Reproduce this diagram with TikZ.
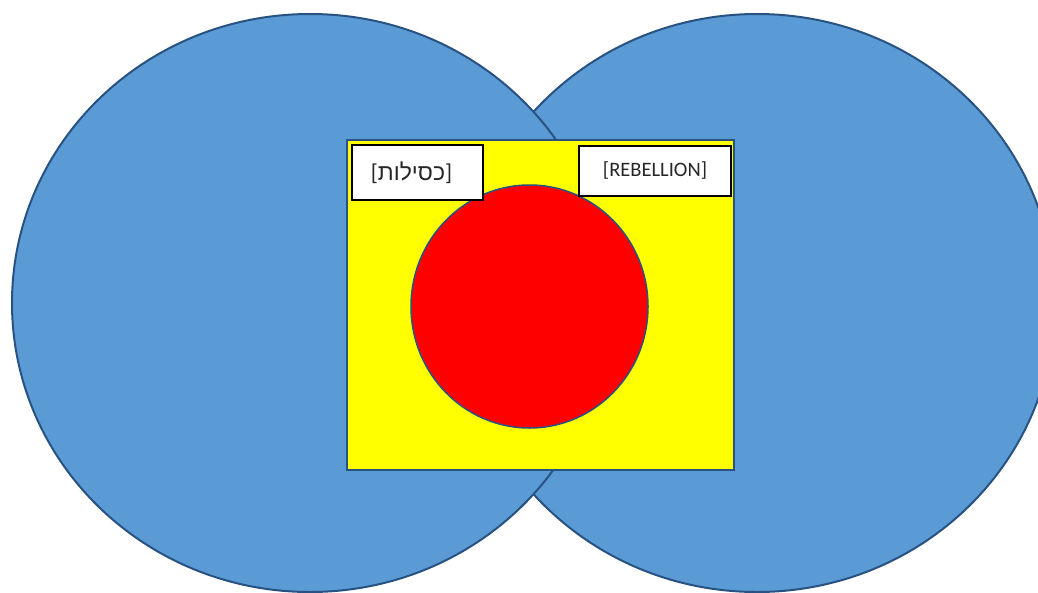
\documentclass[tikz,border=0pt]{standalone}
\usepackage{fontspec}
\setmainfont{Carlito}
\newfontfamily\hebfont[Script=Hebrew]{Liberation Sans}
\TeXXeTstate=1
\usetikzlibrary{shapes.geometric}
\definecolor{bluefill}{HTML}{5B9BD5}
\definecolor{blueline}{RGB}{40,82,130}
\definecolor{yel}{RGB}{255,255,0}
\definecolor{redf}{RGB}{255,0,0}
\tikzset{
  bigcircle/.style={ellipse, draw=blueline, fill=bluefill, line width=2pt, inner sep=0pt, outer sep=0pt, minimum width=596pt, minimum height=578pt},
  yellowbox/.style={rectangle, draw=blueline, fill=yel, line width=1.5pt, inner sep=0pt, minimum width=387pt, minimum height=330pt},
  redcircle/.style={ellipse, draw=blueline, fill=redf, line width=1.5pt, inner sep=0pt, minimum width=237pt, minimum height=243pt},
  labelbox/.style={rectangle, draw=black, fill=white, line width=2pt, inner sep=0pt, text=black!85}
}
\begin{document}
\begin{tikzpicture}[x=1pt,y=-1pt]
\useasboundingbox (0,0) rectangle (1038,592);
\node[bigcircle] (right) at (757,303) {};
\node[bigcircle] (left) at (310,303) {};
\node[yellowbox] (box) at (540.5,305) {};
\node[redcircle] (red) at (529.5,306.5) {};
\node[labelbox, minimum width=131pt, minimum height=55pt] (heb) at (417.5,172.5) {};
\node[text=black!85, font=\fontsize{23}{26}\selectfont] (hebtext) at (411.5,172.5) {[\kern0pt{\hebfont\beginR כסילות\endR}\kern0pt]};
\node[labelbox, minimum width=152pt, minimum height=50pt, font=\fontsize{20.5}{24}\selectfont] (reb) at (655,170.5) {[REBELLION]};
\end{tikzpicture}
\end{document}
